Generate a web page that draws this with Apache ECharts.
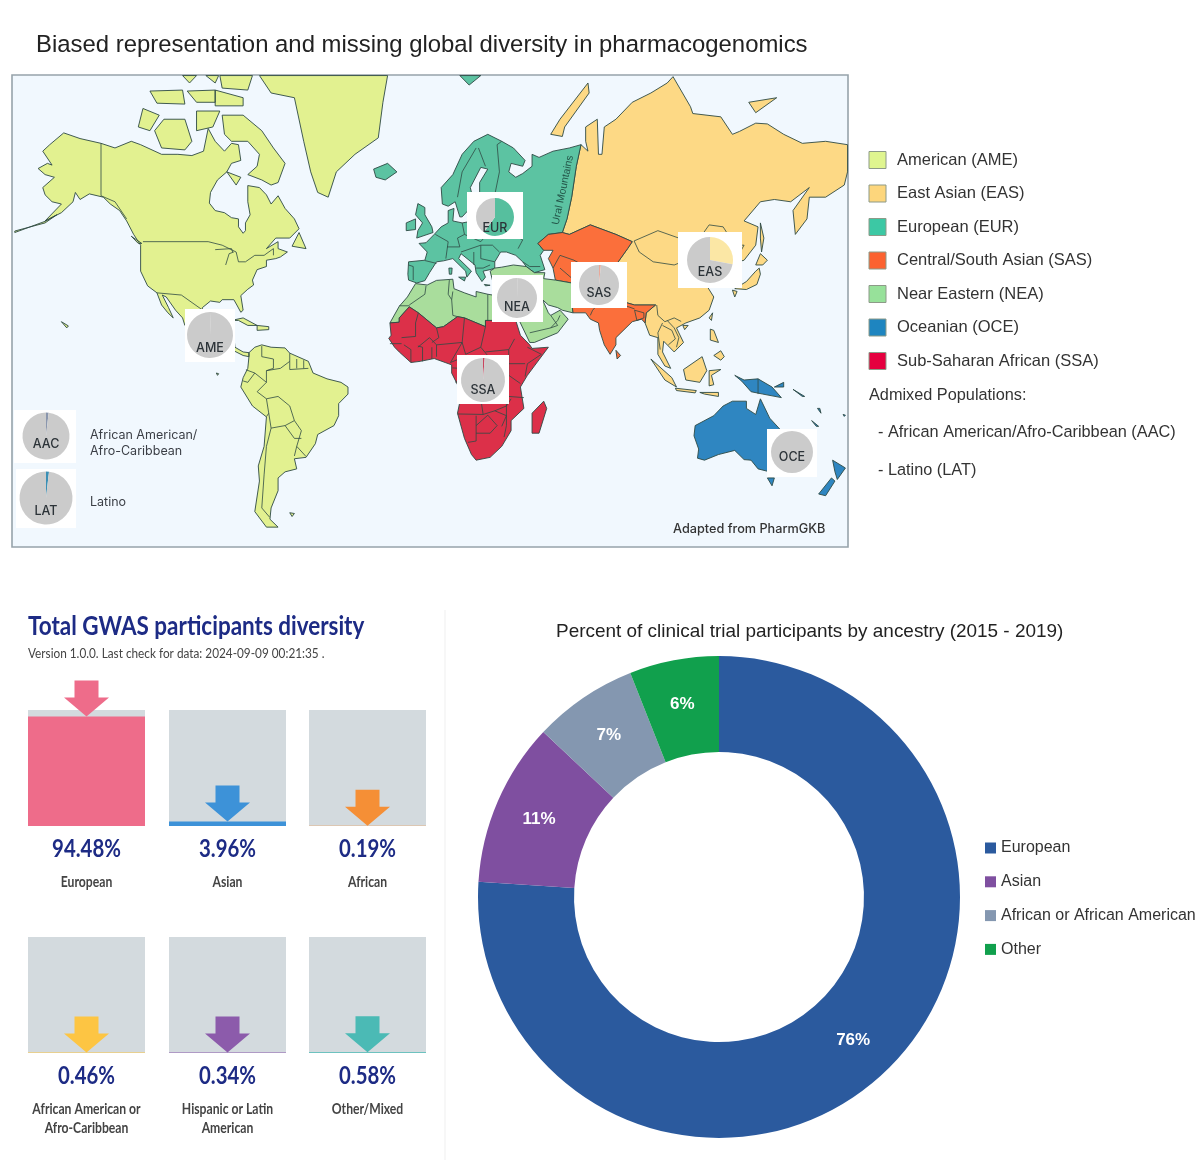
<!DOCTYPE html>
<html>
<head>
<meta charset="utf-8">
<title>Biased representation and missing global diversity in pharmacogenomics</title>
<script src="https://cdn.jsdelivr.net/npm/echarts@6/dist/echarts.min.js"></script>
<style>
	* { margin: 0; padding: 0 }
	html, body { width: 100%; height: 100%; background: #fff; }
	#main { width: 1200px; height: 1174px; }
</style>
</head>
<body>
<div id="main"></div>
<script type="text/javascript">
/* ---------- data: continents as rough lon/lat outlines ---------- */
var ameLand = [
	[[-168,65.6],[-164,66.5],[-162,66.2],[-166,68.5],[-163,69.5],[-157,71.2],[-150,70.4],[-141,69.7],[-135,69],[-128,70],[-124,69.5],[-115,68],[-108,68],[-102,67.8],[-97,68.5],[-95,71.8],[-92,70],[-88,68.5],[-85,69.7],[-82,69.5],[-81,67],[-85,66.5],[-87,65],[-91,63.5],[-94,61],[-94.5,58.7],[-92,57],[-88,56.5],[-85,55.3],[-82,55],[-82,53],[-80,51.3],[-79,52],[-79,54],[-77,56],[-78,59],[-78,62.4],[-73,62],[-70,60.5],[-68,58.5],[-65,60.3],[-62,57.5],[-58,55],[-56,52.5],[-60,50],[-66,50],[-70,47],[-65,49],[-65,47],[-61,46],[-64,44.5],[-66,44],[-70,43.5],[-70,41.5],[-74,40.5],[-76,37],[-75.5,35.3],[-78,33.8],[-81,31.5],[-80,26],[-81,25.2],[-82.7,28],[-84,30],[-89,30],[-90,29],[-94,29.5],[-97.5,27],[-97.7,22],[-95,18.5],[-91,18.7],[-90.5,21],[-87,21.4],[-88,16],[-84,15.7],[-83.5,11],[-80,9],[-77.5,8.7],[-77.5,7],[-80,7.5],[-85,10],[-87.5,13],[-92,14.5],[-96,16],[-105,20],[-106,23],[-109,26],[-113,31],[-114.7,31.7],[-112,27],[-110,23],[-112.3,25],[-115,28],[-117,32.5],[-121,35],[-124,40],[-124,48],[-127,51],[-130,54.5],[-133,57],[-137,58.5],[-140,60],[-146,60.7],[-150,59.5],[-152,61],[-153,59],[-158,56.5],[-165,54.5],[-158,58.5],[-162,59],[-165,60.5],[-166,62],[-161,64],[-165,64.5]],
	[[-77.5,8.7],[-75,11],[-72,12],[-68,11],[-62,10.7],[-60,8.5],[-52,5],[-50,0],[-44,-2.5],[-38,-4],[-35,-6],[-35,-9],[-39,-13],[-39,-18],[-41,-22],[-48,-25.5],[-49,-29],[-53,-34],[-58,-34.5],[-57,-38],[-62,-39],[-65,-41],[-65,-45],[-68,-50],[-68.5,-53],[-65,-55],[-70,-55],[-75,-51],[-73,-42],[-73.5,-37],[-71,-30],[-70,-18.5],[-76,-14],[-81,-6],[-80,-2],[-78,2],[-77.5,7]],
	[[-73,77.7],[-68,76],[-58,75.5],[-54,70],[-51,65],[-48,61],[-43.5,60],[-40,65],[-32,68],[-22,70.5],[-20,75],[-18,77.7]],
	[[-80,73.5],[-72,71.5],[-67,69],[-62,66.5],[-65,63],[-68,62.5],[-72,63.5],[-78,64.5],[-74,66],[-73,68],[-78,70],[-85,70],[-88,71],[-89,73.5]],
	[[-118,71.5],[-114,73],[-105,73],[-102,70],[-105,68.7],[-115,69]],
	[[-125,72],[-123,74.3],[-116,73.5],[-120,71.5]],
	[[-120,76.2],[-106,76.3],[-105,74.8],[-117,74.9]],
	[[-104,76.2],[-92,76.3],[-92,75],[-100,75]],
	[[-92,76.3],[-80,75.5],[-80,74.6],[-92,74.6]],
	[[-90,77.7],[-89,76.5],[-78,76.3],[-76,77.7]],
	[[-96,77.7],[-92,77],[-90.5,77.7]],
	[[-106,77.7],[-100,77.7],[-103,77]],
	[[-100,74],[-90,74],[-93,72],[-100,71.5]],
	[[-59,47.7],[-56,51.5],[-53,47]],
	[[-87,65],[-81,64],[-83,62.5]],
	[[-85,22],[-80,23],[-74,20],[-78,20],[-82,22]],
	[[-74,20],[-69,19.5],[-69,18.3],[-74,18]],
	[[-128,50.5],[-123.5,48.5],[-125,48.5]],
	[[-158,21.5],[-155,19.8],[-155.7,19]],
	[[-60,-51.3],[-58,-51.5],[-59,-52.3]],
	[[-91.5,0],[-90.5,-0.3],[-91,-1]],
	[[-178,51.9],[-165,54],[-160,56],[-165,54.4],[-178,51.5]]
];
var easLand = [
	[[65,69.5],[68,68.5],[67,70],[67,72],[72,73],[72.5,68],[74,68],[75,72],[80,73],[87,75],[95,76],[102,77],[104.5,77.6],[112,74.5],[113,73.7],[125,73.3],[130,71],[133,71.4],[140,72.5],[145,72.4],[152,71],[160,69.7],[170,70],[179.4,69.5],[179.4,65],[178,62.5],[170,60],[163,60],[162,55],[157,51],[156,57],[163,62],[155,59],[148,59.5],[142,59],[135,54.5],[141,53],[140,48],[135,43.5],[130,42.5],[127.5,39.5],[129.5,36],[126.5,34.5],[126,37.5],[124.5,40],[121.5,39],[118,39],[122.5,37],[119,35],[122,31],[120,26],[116,23],[110,21],[106,19],[109,13],[105,9],[100.5,13.5],[100,9],[103.5,2],[101,3],[98,8],[98,15],[94.5,16],[92.5,21],[93,25],[97,28],[88,28],[80,30],[75,36],[74,39],[80,42],[85,47],[87,49],[80,51],[69,53.5],[60,51],[57,51.5],[59,55],[61,60],[63,66]],
	[[52,71],[56,73],[68,77],[68.5,76],[58,72],[57,70.7]],
	[[137,75],[149,75.5],[140,73.8]],
	[[95,6],[104,-2],[106,-6],[101,-3]],
	[[105.5,-6.5],[114.5,-7.5],[114,-8.5],[106,-7.5]],
	[[109,1.5],[117,7],[119,1],[116,-4],[110,-3]],
	[[120,1],[125,1.5],[121,-1],[122,-5],[120,-5.5]],
	[[120.5,18.5],[122,18],[124,13],[120.5,14]],
	[[122,7.5],[125,9.5],[126.5,7],[125,5.5]],
	[[120,23],[121.5,25],[121,22]],
	[[108.7,20],[111,20],[109.5,18.3]],
	[[131,34],[136,36.5],[140,40],[141.5,41],[142,39],[140.5,35.5],[136,33.7]],
	[[140,42],[142,45.5],[145,43.5],[143,42]],
	[[130,33.5],[132,33],[131,31]],
	[[142,54],[143.5,50],[142.5,46],[142,50]],
	[[116,-8.3],[124,-8.3],[124,-10],[118,-9]]
];
var eurLand = [
	[[-9,37],[-9.3,39],[-9,43],[-2,43.5],[-1,46],[-4.5,48.5],[-1.5,48.7],[2,51],[5,53],[8,54],[8,57],[10.5,57.5],[10,54.5],[14,54],[19,54.5],[21,55],[21,57],[24,57.5],[24,59],[30,60],[23,60],[21.5,61],[21.5,63],[25,65.5],[22,65.8],[17.5,62],[18.5,60],[16.5,57],[14,55.5],[13,55.5],[11,59],[8,58],[5.5,58.5],[5,62],[10,64.5],[14,68],[19,70],[25,71],[31,70],[36,69],[41,67],[40,66],[35,66.5],[34,65],[37,64],[40,64.7],[44,66],[44,68],[47,67.5],[53,68.5],[60,69],[65,69.5],[63,66],[61,60],[59,55],[57,51.5],[51,51],[46.5,48.5],[49,46.5],[47.5,45],[49.5,40.5],[45,39.5],[41.5,41.5],[40,43],[37,45],[33,46],[30.5,46],[28,43],[28,41],[26,40.5],[23,40],[24,38],[22.5,36.5],[20,39.5],[19.5,42],[13.5,45.5],[12.5,44],[18,40],[16,38],[15.5,40],[10,44],[6,43.3],[3,43],[0,39.5],[-2,36.8],[-5.5,36]],
	[[-5.5,50],[1.5,51.5],[1,53],[-2,56],[-2,57.7],[-5,58.6],[-6,56],[-3,54],[-5,52]],
	[[-10,52],[-6,52.3],[-6,55],[-10,54]],
	[[-24,65.5],[-18,66.5],[-14,65],[-19,63.5],[-23,64]],
	[[13,77.7],[22,77.7],[17,76.8]],
	[[12.5,38],[15.5,38],[15,36.7]],
	[[8.3,41],[9.7,41],[9.5,39],[8.5,39]],
	[[23.5,35.5],[26,35.2],[24,35]]
];
var sasLand = [
	[[46.5,48.5],[51,51],[57,51.5],[60,51],[69,53.5],[80,51],[87,49],[85,47],[80,42],[74,39],[75,36],[80,30],[88,28],[97,28],[93,25],[92.5,21],[91,22.5],[87,21.5],[80,15],[80,12],[77.5,8],[75,12],[73,18],[72.5,21],[69,22.5],[67,25],[61.5,25],[61,30],[61,36],[54,37],[53,41],[51,44],[53,46.5],[49,46.5]],
	[[80,9.7],[82,7.5],[80.5,6]]
];
var neaLand = [
	[[-17,21],[-13,27.5],[-9.5,31],[-6,35.8],[-1,35.3],[3,36.9],[10,37.3],[10.5,34],[15,32.5],[20,31],[20,33],[25,32],[32,31],[34.3,31.3],[32.5,29.5],[35,24],[37,22],[24,22],[24,19.5],[15,23],[12,23.5],[6,19.5],[3,19],[-4.8,25],[-8.7,27.3],[-13,23],[-13,21.3]],
	[[26,40],[28,41],[31,41.3],[36,42],[41.5,41.5],[45,39.5],[49.5,39.5],[49,37.5],[54,37],[61,36],[61,30],[61.5,25],[57,26],[55,27],[51,28],[48.5,30],[51,25],[52,24],[56,26],[59.5,22.5],[55,17],[45,13],[43,13],[39,21],[35,28],[34.3,31.3],[36,36.5],[30,36.5],[27,37]]
];
var ocaLand = [
	[[113.5,-26],[114,-22],[122,-18],[126,-14],[130,-12],[136,-12],[136,-15],[140,-17.5],[142,-11],[146,-19],[153,-26],[153,-31],[150,-37.5],[146,-39],[141,-38],[138,-35],[135,-34.8],[131,-31.5],[124,-33],[118,-35],[115,-34.3],[115.5,-31]],
	[[145,-41],[148,-41],[147,-43.5]],
	[[173,-35],[178.5,-37.7],[175,-41.5],[174,-39]],
	[[172.5,-41],[174,-42],[170,-46.5],[167,-46]],
	[[131,-1],[135,-3],[141,-2.5],[147,-6],[151,-10.5],[143,-9],[138,-8],[134,-3.5]],
	[[148,-6],[152,-4],[152,-6]],
	[[156,-7],[161,-10],[160,-10]],
	[[166.5,-15],[167.5,-15],[168,-17]],
	[[164,-20],[167,-22.3],[166,-22.3]],
	[[177.5,-17.5],[178.5,-17.8],[178,-18.3]]
];
var ssaLand = [
	[[-17,21],[-16.5,16],[-17.5,14.7],[-15,11],[-13,9],[-8,4.5],[-4,5],[2,6.2],[7,4.4],[9.5,3.5],[9.5,0],[12,-5],[13.5,-10],[12,-17],[15,-27],[18,-33],[20,-35],[26,-34],[31,-30],[35,-24],[35,-20],[40.5,-15],[39,-6],[42,-1],[51,11],[44,10.5],[43,12],[39,16],[37,22],[24,22],[24,19.5],[15,23],[12,23.5],[6,19.5],[3,19],[-4.8,25],[-8.7,27.3],[-13,23],[-13,21.3]],
	[[44,-25],[47,-25],[50.3,-15],[49,-12],[44,-17]]
];
var countryBorders = [
	// americas
	[[-141,69.7],[-141,60.3],[-135,59],[-130,55]], [[-123,49],[-95,49],[-89,48],[-83,46],[-82,43],[-79,43],[-75,45],[-71,45],[-67,47],[-67,45]], [[-117,32.5],[-106.5,31.7],[-97.3,26]],
	[[-92,46.7],[-85,47],[-84.5,46]], [[-87.5,42],[-86,45.5],[-84,46]],
	[[-60,5],[-64,2],[-70,1],[-70,-4],[-74,-8],[-70,-11],[-65,-10],[-60,-14],[-58,-20],[-55,-24],[-57,-30],[-53,-33.7]],
	[[-60,8.5],[-60,5],[-60,1.5],[-52,2]], [[-57,6],[-57,2]], [[-54,5.5],[-54,2]], [[-72,11.5],[-72,7],[-67,6],[-67,2],[-70,1]],
	[[-78.8,1.4],[-75,0],[-70,-4]], [[-80,-3.4],[-78,-4],[-75,0]], [[-70,-11],[-69,-17],[-70,-18.4]], [[-69,-17],[-68,-23],[-70,-30],[-71,-40],[-72,-50],[-68.6,-52.5]],
	[[-68,-23],[-62,-22],[-58,-20]], [[-62,-22],[-58,-27],[-55,-27]], [[-58,-33.5],[-57,-30]],
	// africa
	[[-13,27.7],[-8.7,27.7]], [[-1.5,35],[-2,32],[-8.7,28]], [[8.5,37],[8,32],[9.5,30]], [[10,33],[9.5,30],[10,24],[12,23.5]], [[25,32],[25,22]],
	[[-4.8,25],[-6,21],[-6,15.5],[-12,15]], [[3,19],[4,15],[1,13]], [[15,23],[14,13]], [[24,19.5],[22,11]], [[14,13],[15.5,8],[22,11]], [[3,12],[3,7]], [[3,12],[14,13],[9,4.5]],
	[[15,7],[15,3],[27,5],[22,11]], [[27,5],[34,4],[34,10],[24,9]], [[36.5,14.5],[34,10]], [[42,11],[48,8],[42,4],[41,-1.5]], [[34,4],[41,4]], [[34,4],[34,-1],[39,-4.5]],
	[[12,-5],[16,-6],[22,-11],[28,-12],[30,-8],[29,-2],[31,3]], [[13,2],[18,3.5],[16,-3],[12,-5]], [[9.8,2.2],[13,2],[13.5,-2],[11,-4]], [[12,-17.3],[23,-17.5],[22,-11]],
	[[23,-17.5],[28,-16],[33,-14],[33,-9],[30,-8]], [[30,-8],[34,-10],[40.5,-10.5]], [[35,-11],[33,-14],[33,-22],[32,-26.5]], [[20,-18],[20,-28],[16.5,-28.5]], [[20,-22],[25,-17.8],[29,-22],[26,-25],[20,-25]],
	[[28,-16],[33,-18],[31,-22.3]], [[-11,12],[-8,10],[-8,4.7]], [[-3,5],[-3,11],[-5,11.5]], [[1,11],[1,6]], [[-12,12.5],[-17,12.5]], [[-5,11],[0,15],[3,12]], [[9,4.5],[15,7]],
	// near east, central and south asia
	[[35,29.5],[47,29],[48.5,29.5]], [[36,36.5],[42,37],[44.5,37.5],[46,33],[48.5,30]], [[39,33],[42,37]], [[36,32],[39,32],[47,29]], [[43,17],[52,19],[55,20],[52,24]], [[52,19],[55,22],[56,24]],
	[[74,34],[74,30],[70,26],[69,24]], [[74,37],[70,33],[62,29.5]], [[53,41],[56,45],[62,43.5],[68,41],[71,42],[80,42]], [[56,41],[62,37]], [[80,29],[88,26.5]], [[88,26],[89,22],[92,23],[92,25],[88,26]],
	// east asia
	[[87.8,49.2],[98,52],[107,50],[116,50],[120,47],[112,44],[105,42],[96,43],[90,46],[87.8,49.2]], [[116,50],[120,53.5],[126,53],[131,48],[135,48],[131,43]], [[124.5,40],[130,42.5]],
	[[100,21],[98,17],[99,10]], [[102,22],[105,19],[107,15],[106,11]], [[100,20],[104,18],[105.5,14.5],[102.5,12]], [[97.5,28],[98,24],[101,21.5],[105,23],[108,21.6]],
	// europe
	[[2.5,51],[8,49],[7,44]], [[14,54],[15,51],[12,50],[13,47.5],[7.5,47.5]], [[-9,42],[-7,41.5],[-7,37]], [[-2,43.4],[3,42.5]], [[19,54.5],[23,54],[24,50.5],[22,49],[15,51]],
	[[28,59.5],[28,56],[23,54]], [[24,50.5],[32,52],[40,49.5],[38,47]], [[28,56],[32,52]], [[28,60.5],[30,65],[29,69.5]], [[12,60],[14,65],[20,69]], [[24,66],[21,69]],
	[[13.5,46],[22,48],[27,48],[30,46]], [[22,48],[22,44],[28,43]], [[19,46],[19,42]], [[26,42],[23,41],[20,41]], [[29,69.5],[31,70]], [[40,43],[43,41.5],[47.5,41.5]],
	// oceania
	[[141,-2.5],[141,-9]]
];
var oceanFrame = [[-179.2,77.75],[179.6,77.75],[179.6,-59.6],[-179.2,-59.6]];

/* ---------- data: map legend and inset pies ---------- */
var regionNames = ['American (AME)','East Asian (EAS)','European (EUR)','Central/South Asian (SAS)','Near Eastern (NEA)','Oceanian (OCE)','Sub-Saharan African (SSA)'];
var admixedLines = ['Admixed Populations:','- African American/Afro-Caribbean (AAC)','- Latino (LAT)'];
var insetCodes = ['AME','EUR','NEA','SAS','EAS','SSA','OCE','AAC','LAT'];
var insetShares = [0.5,60,0.3,1.5,28,1.2,0,1.8,1.8];

/* ---------- data: GWAS cards ---------- */
var gwasNames = ['European','Asian','African','African American or\nAfro-Caribbean','Hispanic or Latin\nAmerican','Other/Mixed'];
var gwasValues = [94.48,3.96,0.19,0.46,0.34,0.58];

/* ---------- data: clinical trial donut ---------- */
var trialNames = ['European','Asian','African or African American','Other'];
var trialValues = [76,11,7,6];

/* ---------- styles and layout ---------- */
var regionFill = ['#e2f190','#fdd985','#5cc3a2','#fb6f3b','#a9dd9c','#2f86c1','#dc3049'];
var swatchFill = ['#dff58f','#fdd67c','#3cc8a4','#fc6230','#97e19a','#1e85c0','#e5003f'];
var insetColor = ['#b9b9b9','#56bf9e','#b4b4b4','#e8a899','#fbe7a5','#c8455f','#cbcbcb','#8a96ad','#3a8fb5'];
var insetCenter = [[210,335],[495,217],[517,298],[599,285],[710,260],[483,380],[792,452],[46,436],[46,498]];
var insetRadius = [23,19,20,20,23,22,21,23.5,26.5];
var insetBox = [[185,309,50,53],[467,192,56,47],[492,275,51,47],[571,262,56,46],[678,232,64,56],[457,355,52,49],[767,429,50,48],[14,410,62,53],[16,469,60,59]];
var insetLabelY = [348,228,307,293,272,390,457,444,511];
var gwasColor = ['#ee6c8a','#3d92d8','#f58f36','#fdc543','#8c5bab','#4bbab5'];
var gwasLeft = [28,169,309,28,169,309];
var gwasTop = [710,710,710,937,937,937];
var trialColor = ['#2b5a9e','#7f4fa0','#8497b0','#11a04d'];
var arrowPath = 'path://M10.5 0H34.5V17H45L22.5 36L0 17H10.5Z';
var sans = '"Liberation Sans", Arial, sans-serif';
var inter = '"Inter", "Liberation Sans", sans-serif';
var lato = 'Lato, "Liberation Sans", sans-serif';

/* ---------- map registration ---------- */
function feature(name, rings) {
	return {
		type: 'Feature',
		properties: { name: name },
		geometry: { type: 'MultiPolygon', coordinates: rings.map(function (r) { return [r.concat([r[0]])]; }) }
	};
}
var worldJson = {
	type: 'FeatureCollection',
	features: [
		feature('ocean', [oceanFrame]),
		feature('AME', ameLand), feature('EAS', easLand), feature('EUR', eurLand), feature('SAS', sasLand),
		feature('NEA', neaLand), feature('OCE', ocaLand), feature('SSA', ssaLand)
	]
};
echarts.registerMap('world', worldJson);

var RAD = Math.PI / 180;
var mercator = {
	project: function (p) { return [p[0], -Math.log(Math.tan(Math.PI / 4 + p[1] * RAD / 2)) / RAD]; },
	unproject: function (p) { return [p[0], (2 * Math.atan(Math.exp(-p[1] * RAD)) - Math.PI / 2) / RAD]; }
};

/* ---------- graphic: map legend, boxes, notes ---------- */
function txt(x, y, s, size, color, extra, scaleX) {
	var st = { x: 0, y: 0, text: s, fontSize: size, fontFamily: sans, fill: color, textVerticalAlign: 'middle', textAlign: 'left' };
	for (var k in (extra || {})) st[k] = extra[k];
	return { type: 'text', z: 6, silent: true, x: x, y: y, scaleX: scaleX || 1, style: st };
}
var graphics = [];
insetBox.forEach(function (b) {
	graphics.push({ type: 'rect', z: 2, silent: true, shape: { x: b[0], y: b[1], width: b[2], height: b[3] }, style: { fill: '#fff' } });
});
insetCodes.forEach(function (c, i) {
	graphics.push(txt(insetCenter[i][0], insetLabelY[i], c, 12.5, '#2c3338', { textAlign: 'center', fontFamily: inter, fontWeight: 500 }));
});
regionNames.forEach(function (n, i) {
	var y = 160 + i * 33.5;
	graphics.push({ type: 'rect', z: 6, silent: true, shape: { x: 869, y: y - 8.5, width: 17, height: 17 }, style: { fill: swatchFill[i], stroke: '#8d9a88', lineWidth: 1 } });
	graphics.push(txt(897, y, n, 16.5, '#333'));
});
graphics.push(txt(869, 395.5, admixedLines[0], 16.3, '#333'));
graphics.push(txt(878, 433, admixedLines[1], 16.3, '#333'));
graphics.push(txt(878, 471, admixedLines[2], 16.3, '#333'));
graphics.push(txt(90, 435, 'African American/', 12.5, '#3b3f46', { fontFamily: inter }));
graphics.push(txt(90, 451, 'Afro-Caribbean', 12.5, '#3b3f46', { fontFamily: inter }));
graphics.push(txt(90, 502, 'Latino', 12.5, '#3b3f46', { fontFamily: inter }));
graphics.push(txt(673, 529, 'Adapted from PharmGKB', 12.7, '#333', { fontFamily: inter, fontWeight: 500 }));
graphics.push({
	type: 'text', z: 6, silent: true, x: 563, y: 190, rotation: 78 * RAD,
	style: { x: 0, y: 0, text: 'Ural Mountains', fontSize: 10.5, fontFamily: sans, fill: '#24574a', textAlign: 'center', textVerticalAlign: 'middle' }
});
graphics.push({ type: 'line', z: 0, silent: true, shape: { x1: 445, y1: 610, x2: 445, y2: 1160 }, style: { stroke: '#f5f5f5', lineWidth: 1.5 } });

/* GWAS panel text is condensed in the picture, no narrow font here so squeeze it */
graphics.push(txt(28, 626, 'Total GWAS participants diversity', 27, '#1d2b85', { fontFamily: lato, fontWeight: 'bold' }, 0.832));
graphics.push(txt(28, 654, 'Version 1.0.0. Last check for data: 2024-09-09 00:21:35 .', 13.5, '#444', { fontFamily: lato }, 0.873));
gwasNames.forEach(function (n, i) {
	var cx = gwasLeft[i] + 58.5;
	var base = gwasTop[i] + 116;
	graphics.push(txt(cx, base + 23, gwasValues[i].toFixed(2) + '%', 24, '#1d2b85', { textAlign: 'center', fontFamily: lato, fontWeight: 'bold' }, 0.85));
	n.split('\n').forEach(function (l, j) {
		graphics.push(txt(cx, base + 56 + j * 19, l, 14.5, '#444', { textAlign: 'center', fontFamily: lato, fontWeight: 'bold' }, 0.84));
	});
});

/* ---------- series and axes ---------- */
var series = [];
var grids = [], xAxes = [], yAxes = [];

series.push({
	type: 'lines', coordinateSystem: 'geo', geoIndex: 0, polyline: true, silent: true, z: 1,
	lineStyle: { color: '#2e4a44', width: 0.8, opacity: 1 },
	data: countryBorders.map(function (c) { return { coords: c }; })
});

insetCodes.forEach(function (c, i) {
	series.push({
		type: 'pie', name: c, center: insetCenter[i], radius: [0, insetRadius[i]], startAngle: 90, silent: true, z: 3,
		label: { show: false }, labelLine: { show: false },
		data: [
			{ name: c + ' share', value: insetShares[i], itemStyle: { color: insetColor[i] } },
			{ name: c + ' rest', value: 100 - insetShares[i], itemStyle: { color: '#cbcbcb' } }
		]
	});
});

gwasNames.forEach(function (n, i) {
	grids.push({ left: gwasLeft[i], top: gwasTop[i], width: 117, height: 116 });
	xAxes.push({
		gridIndex: i, type: 'category', data: [n],
		axisLine: { show: false }, axisTick: { show: false }, axisLabel: { show: false }
	});
	yAxes.push({ gridIndex: i, type: 'value', min: 0, max: 100, show: false });
	series.push({
		type: 'bar', xAxisIndex: i, yAxisIndex: i, barWidth: '100%', silent: true,
		showBackground: true, backgroundStyle: { color: '#d3dade' },
		itemStyle: { color: gwasColor[i] },
		data: [gwasValues[i]]
	});
	series.push({
		type: 'scatter', xAxisIndex: i, yAxisIndex: i, silent: true, z: 4,
		symbol: arrowPath, symbolSize: [45, 36], symbolOffset: [0, -18],
		itemStyle: { color: gwasColor[i], opacity: 1 },
		data: [[0, gwasValues[i]]]
	});
});

series.push({
	type: 'pie', name: 'trial', center: [719, 897], radius: [145, 241], startAngle: 90, silent: true,
	label: {
		show: true, position: 'inside', color: '#fff', fontFamily: sans, fontWeight: 'bold', fontSize: 17,
		formatter: function (p) { return p.value + '%'; }
	},
	labelLine: { show: false },
	data: trialNames.map(function (n, i) {
		return { name: n, value: trialValues[i], itemStyle: { color: trialColor[i] } };
	})
});

var myChart = echarts.init(document.getElementById('main'), null, { renderer: 'canvas' });
myChart.setOption({
	animation: false,
	backgroundColor: '#fff',
	title: [
		{ text: 'Biased representation and missing global diversity in pharmacogenomics', left: 36, top: 33, padding: 0, textStyle: { fontFamily: sans, fontWeight: 'normal', fontSize: 23.9, color: '#222' } },
		{ text: 'Percent of clinical trial participants by ancestry (2015 - 2019)', left: 556, top: 622, padding: 0, textStyle: { fontFamily: sans, fontWeight: 'normal', fontSize: 18.95, color: '#222' } }
	],
	legend: {
		data: trialNames, orient: 'vertical', left: 985, top: 840, icon: 'rect', itemWidth: 11, itemHeight: 11, itemGap: 17.8, selectedMode: false,
		padding: 0, textStyle: { fontFamily: sans, fontSize: 16, color: '#333' }
	},
	geo: {
		map: 'world', silent: true, roam: false, z: 0,
		projection: mercator,
		boundingCoords: [oceanFrame[0], oceanFrame[2]],
		left: 12, top: 75, width: 836, height: 472,
		label: { show: false },
		itemStyle: { borderColor: '#2e4a44', borderWidth: 0.9 },
		regions: [{ name: 'ocean', itemStyle: { areaColor: '#f1f8fe', borderColor: '#97a3ab', borderWidth: 1.6 } }].concat(
			['AME','EAS','EUR','SAS','NEA','OCE','SSA'].map(function (r, i) {
				return { name: r, itemStyle: { areaColor: regionFill[i] } };
			})
		)
	},
	grid: grids,
	xAxis: xAxes,
	yAxis: yAxes,
	series: series,
	graphic: { elements: graphics }
});
</script>
</body>
</html>
